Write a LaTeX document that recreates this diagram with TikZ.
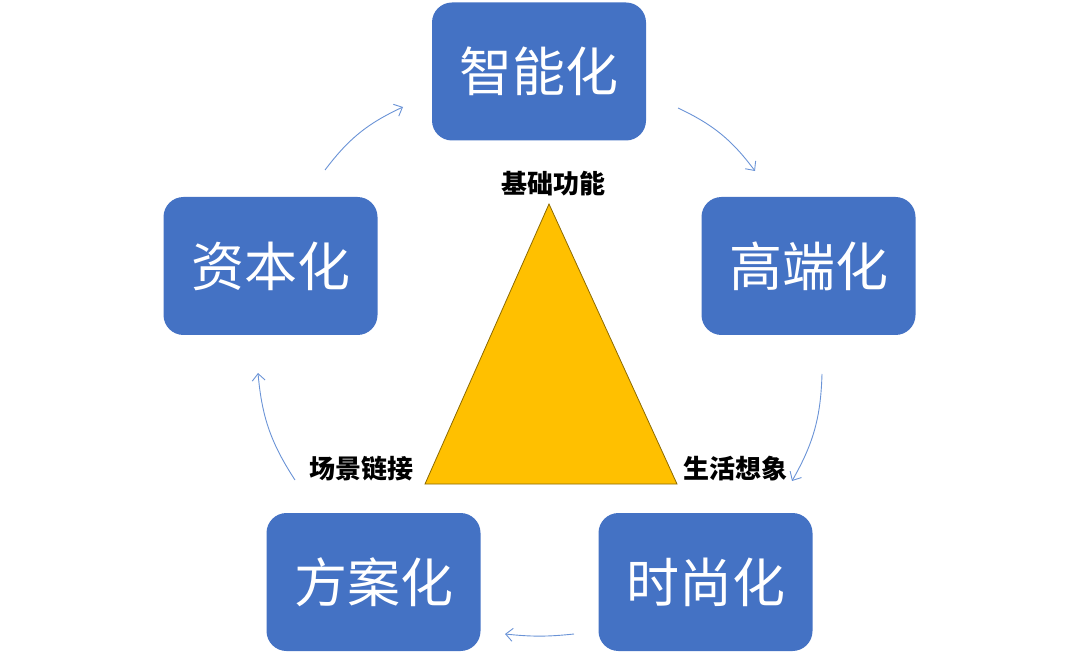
\documentclass[tikz,border=0pt]{standalone}
\usepackage{fontspec}
\newfontfamily\cjk{Noto Sans CJK SC}
\usetikzlibrary{arrows.meta}
\definecolor{boxblue}{HTML}{4472C4}
\definecolor{arrowblue}{HTML}{6A93D6}
\definecolor{tri}{HTML}{FFC000}
\definecolor{triedge}{HTML}{8C6A00}
\begin{document}
\begin{tikzpicture}[x=1pt,y=-1pt,
  box/.style={draw=none,fill=boxblue,rounded corners=20pt,minimum width=214pt,minimum height=138pt,inner sep=0pt,text=white,font=\cjk\fontsize{53}{60}\selectfont},
  lab/.style={inner sep=0pt,font=\cjk\bfseries\fontsize{26}{30}\selectfont},
  flow/.style={draw=arrowblue,line width=0.9pt,-{Straight Barb[length=7pt,width=13pt,line width=0.9pt]},bend left=14}]
\useasboundingbox (0,0) rectangle (1080,663);
\node[box] (zn) at (539,71.5) {智能化};
\node[box] (gd) at (808.5,266) {高端化};
\node[box] (ss) at (705.5,582) {时尚化};
\node[box] (fa) at (373.5,582) {方案化};
\node[box] (zb) at (270.5,266) {资本化};
\coordinate (ta) at (549,204);
\coordinate (tl) at (425,484);
\coordinate (tr) at (677,484);
\draw[fill=tri,draw=triedge,line width=0.8pt,line join=miter] (ta) -- (tl) -- (tr) -- cycle;
\node[lab] (l1) at (553,184) {基础功能};
\node[lab] (l2) at (361,469) {场景链接};
\node[lab] (l3) at (735,469) {生活想象};
\coordinate (a1s) at (325,170); \coordinate (a1e) at (403,107);
\coordinate (a2s) at (678,108); \coordinate (a2e) at (755,171);
\coordinate (a3s) at (822,374); \coordinate (a3e) at (792,481);
\coordinate (a4s) at (574,634); \coordinate (a4e) at (505,634);
\coordinate (a5s) at (295,480); \coordinate (a5e) at (258,373);
\draw[flow] (a1s) to (a1e);
\draw[flow] (a2s) to (a2e);
\draw[flow] (a3s) to (a3e);
\draw[flow,bend left=6] (a4s) to (a4e);
\draw[flow] (a5s) to (a5e);
\end{tikzpicture}
\end{document}
